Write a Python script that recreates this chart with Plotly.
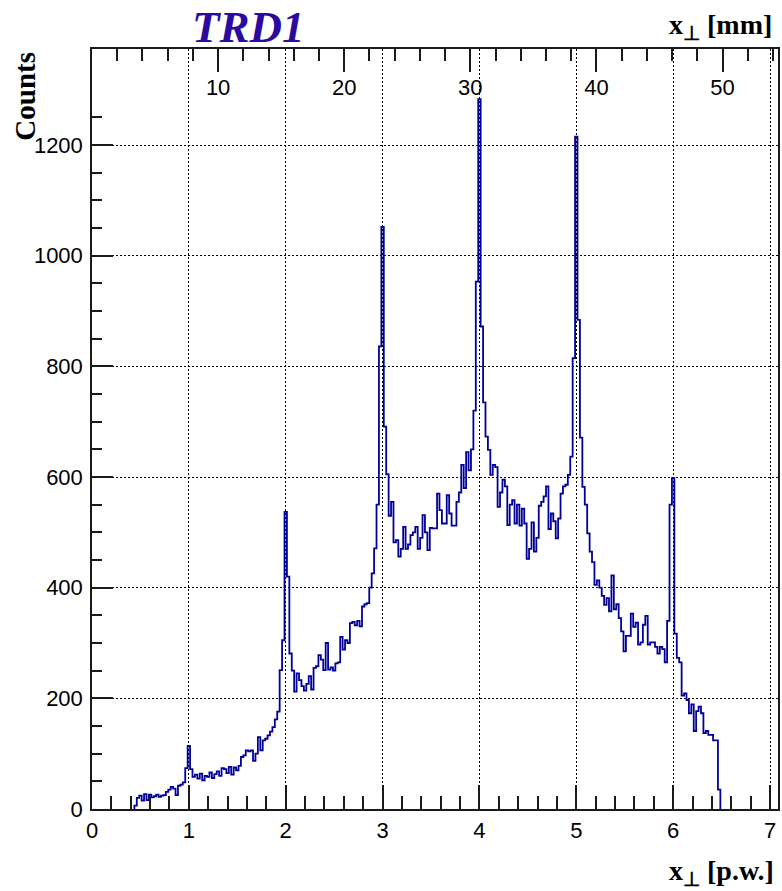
import plotly.graph_objects as go

# Histogram of the hit position across the wires (pad-width units)
bin_width = 0.025
first_center = 0.45
counts = [
    6, 20, 24, 15, 27, 16, 26, 21, 23, 26,            # 0.450
    22, 24, 25, 31, 35, 40, 37, 25, 42, 44,           # 0.700
    48, 74, 114, 72, 58, 62, 55, 64, 52, 60,          # 0.950
    58, 66, 56, 63, 68, 60, 74, 72, 65, 76,           # 1.200
    62, 75, 70, 78, 94, 97, 106, 104, 106, 87,        # 1.450
    100, 130, 106, 124, 127, 133, 140, 148, 162, 176, # 1.700
    251, 305, 537, 420, 281, 250, 212, 245, 233, 222, # 1.950
    214, 226, 240, 216, 255, 258, 278, 270, 251, 300, # 2.200
    252, 256, 250, 263, 265, 311, 288, 305, 300, 336, # 2.450
    338, 332, 340, 330, 366, 370, 372, 400, 426, 471, # 2.700
    550, 836, 1052, 691, 605, 530, 555, 482, 486, 456,  # 2.950
    470, 510, 470, 478, 495, 500, 510, 470, 490, 531, # 3.200
    500, 468, 508, 507, 507, 570, 540, 516, 516, 567, # 3.450
    534, 512, 512, 555, 572, 622, 580, 645, 612, 650, # 3.700
    720, 953, 1283, 872, 735, 673, 649, 604, 622, 618,  # 3.950
    546, 572, 595, 583, 513, 550, 558, 516, 550, 512, # 4.200
    543, 516, 452, 470, 518, 465, 490, 548, 555, 565, # 4.450
    583, 506, 534, 520, 489, 525, 570, 583, 586, 604, # 4.700
    637, 815, 1215, 884, 671, 582, 550, 498, 465, 446,  # 4.950
    405, 413, 400, 385, 369, 381, 357, 422, 361, 370, # 5.200
    345, 321, 285, 313, 313, 353, 329, 337, 297, 301, # 5.450
    333, 349, 297, 301, 301, 293, 281, 293, 289, 265, # 5.700
    340, 550, 598, 317, 273, 265, 205, 209, 197, 173, # 5.950
    189, 141, 177, 185, 173, 137, 141, 134, 134, 124, # 6.200
    124, 35,                                          # 6.450
]

# Axis ranges: pad-width units below, millimetres above
x_range = [0.0, 7.0825]
mm_per_pw = 7.68
mm_range = [x_range[0] * mm_per_pw, x_range[1] * mm_per_pw]
y_range = [0.0, 1373.5]
top_tick_vals = [10, 20, 30, 40, 50]

# step outline: each bin edge followed by its content
edges = [first_center - bin_width / 2 + bin_width * i for i in range(len(counts) + 1)]
xs = [edges[0]] + edges
ys = [0] + counts + [0]

W, H = 782, 891
ML, MR, MT, MB = 92, 2, 49, 82
PW, PH = W - ML - MR, H - MT - MB


def px_x(px):
    return (px - ML) / PW


def px_y(py):
    return (H - MB - py) / PH


line_col = "#1a1a1a"
hist_col = "#000099"
grid_dash = "1.5px,2.5px"

fig = go.Figure()
fig.add_trace(go.Scatter(
    x=xs, y=ys, mode="lines",
    line=dict(shape="hv", color=hist_col, width=1.8),
    showlegend=False, hoverinfo="skip",
))
# empty trace so the millimetre axis is drawn
fig.add_trace(go.Scatter(x=mm_range, y=[None, None], xaxis="x2", yaxis="y",
                         mode="lines", showlegend=False, hoverinfo="skip"))

tick_font = dict(family="Liberation Sans", size=22, color="black")

fig.update_layout(
    width=W, height=H,
    margin=dict(l=ML, r=MR, t=MT, b=MB),
    paper_bgcolor="white", plot_bgcolor="white",
    xaxis=dict(
        range=x_range, showline=True, linecolor=line_col, linewidth=1.5,
        ticks="inside", ticklen=24, tickwidth=1.5, tickcolor=line_col,
        tick0=0, dtick=1,
        minor=dict(ticks="inside", ticklen=13, tickwidth=1.5, tickcolor=line_col,
                   tick0=0, dtick=0.2, showgrid=False),
        showgrid=True, gridcolor="black", gridwidth=1, griddash=grid_dash,
        zeroline=False, tickfont=tick_font, ticklabelstandoff=1,
    ),
    xaxis2=dict(
        overlaying="x", side="top", anchor="y",
        range=mm_range, showline=True, linecolor=line_col, linewidth=1.5,
        ticks="inside", ticklen=23, tickwidth=1.5, tickcolor=line_col,
        tickmode="array", tickvals=top_tick_vals,
        minor=dict(ticks="inside", ticklen=12, tickwidth=1.5, tickcolor=line_col,
                   tick0=0, dtick=2, showgrid=False),
        ticklabelposition="inside", ticklabelstandoff=9,
        showgrid=False, zeroline=False,
        tickfont=dict(family="Liberation Sans", size=22, color="black"),
    ),
    yaxis=dict(
        range=y_range, showline=True, mirror=True, linecolor=line_col, linewidth=1.5,
        ticks="inside", ticklen=21, tickwidth=1.5, tickcolor=line_col,
        tick0=0, dtick=200,
        minor=dict(ticks="inside", ticklen=10, tickwidth=1.5, tickcolor=line_col,
                   tick0=0, dtick=50, showgrid=False),
        showgrid=True, gridcolor="black", gridwidth=1, griddash=grid_dash,
        zeroline=False, tickfont=tick_font, ticklabelstandoff=3,
    ),
    annotations=[
        dict(text="<b><i>TRD1</i></b>", xref="paper", yref="paper",
             x=px_x(249), y=px_y(27), xanchor="center", yanchor="middle",
             showarrow=False,
             font=dict(family="Liberation Serif", size=45, color="#2a0aa0")),
        dict(text="<b>Counts</b>", xref="paper", yref="paper", textangle=-90,
             x=px_x(25), y=px_y(50), xanchor="center", yanchor="top",
             showarrow=False,
             font=dict(family="Liberation Serif", size=29, color="black")),
        dict(text="<b>x<sub>⊥</sub> [mm]</b>", xref="paper", yref="paper",
             x=px_x(776), y=px_y(26), xanchor="right", yanchor="middle",
             showarrow=False,
             font=dict(family="Liberation Serif", size=28, color="black")),
        dict(text="<b>x<sub>⊥</sub> [p.w.]</b>", xref="paper", yref="paper",
             x=px_x(778), y=px_y(872), xanchor="right", yanchor="middle",
             showarrow=False,
             font=dict(family="Liberation Serif", size=28, color="black")),
    ],
)

fig.write_html("out.html")
